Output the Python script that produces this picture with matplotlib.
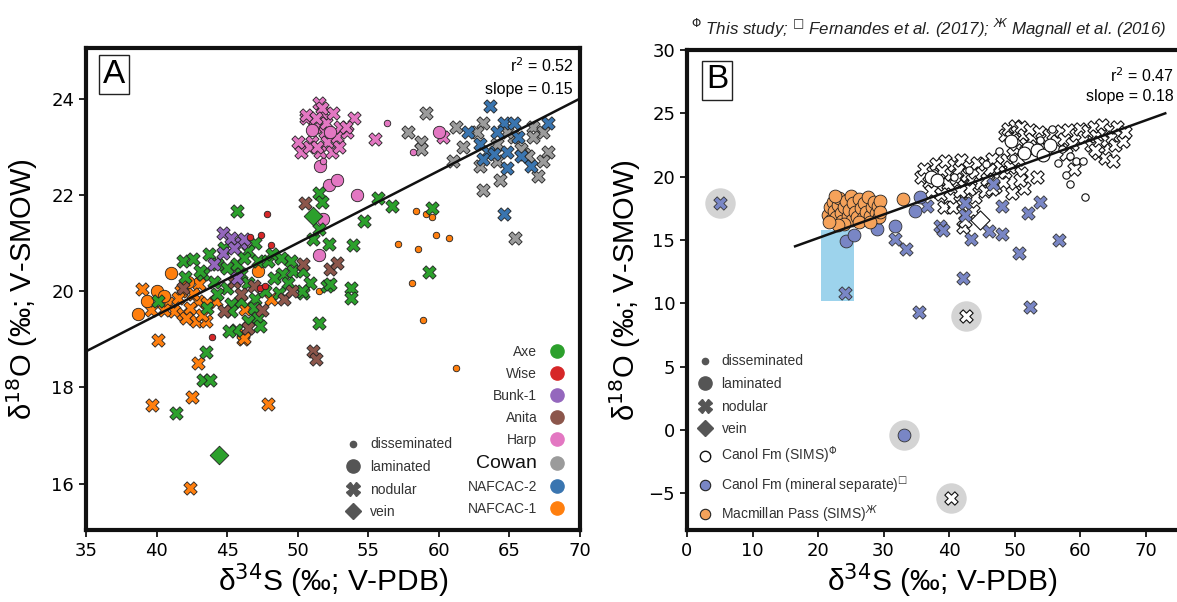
import matplotlib
matplotlib.use("Agg")
import matplotlib.pyplot as plt
from matplotlib.lines import Line2D
from matplotlib.patches import Rectangle

plt.rcParams['font.family'] = ['Liberation Sans', 'DejaVu Sans']

# ---------------- panel A data (d34S, d18O) ----------------
axe_nodular = [(45.7, 21.67), (51.1, 21.08), (52.2, 20.98), (47.0, 21.0), (46.5, 20.83), (43.7, 20.77),
               (41.9, 20.62), (42.6, 20.67), (44.3, 20.56), (45.0, 20.48), (45.7, 20.56), (46.2, 20.69),
               (47.2, 20.63), (47.9, 20.63), (48.2, 20.77), (48.8, 20.69), (49.5, 20.63), (49.7, 20.42),
               (48.9, 20.35), (48.3, 20.27), (49.3, 20.17), (50.4, 20.42), (50.9, 20.17), (52.1, 20.1),
               (50.4, 19.96), (48.7, 19.96), (47.0, 19.83), (46.0, 19.79), (45.0, 20.06), (44.1, 20.2),
               (43.3, 20.35), (44.3, 19.94), (45.3, 19.73), (43.6, 19.65), (43.1, 20.42), (40.1, 19.79),
               (46.9, 19.65), (47.2, 19.44), (47.3, 19.27), (46.5, 19.38), (45.6, 19.2), (45.1, 19.17),
               (43.5, 18.73), (43.3, 18.15), (43.8, 18.15), (41.4, 17.48), (51.5, 19.33), (47.7, 20.0),
               (46.0, 20.35), (46.5, 20.17), (45.3, 19.58), (51.5, 22.04), (51.7, 21.85), (55.7, 21.94),
               (56.7, 21.77), (59.5, 21.73), (54.7, 21.46), (53.9, 20.96), (51.5, 21.3), (53.8, 20.06),
               (53.8, 19.85), (59.3, 20.4), (52.3, 20.15), (50.3, 20.0), (42.0, 20.3), (44.8, 20.9)]
axe_vein = [(51.1, 21.56), (44.4, 16.6)]

nafcac1_nodular = [(40.1, 18.98), (42.9, 18.5), (42.5, 17.8), (39.7, 17.64), (47.9, 17.66), (42.4, 15.92),
                   (46.1, 19.0), (46.1, 19.12), (39.0, 20.04), (40.8, 19.75), (41.2, 19.58), (41.9, 19.52),
                   (42.8, 19.38), (43.5, 19.38), (42.9, 19.79), (43.6, 19.75), (42.4, 19.65), (41.7, 20.0),
                   (43.0, 20.15), (42.6, 19.94), (44.2, 19.79), (46.2, 19.02), (46.3, 19.63), (48.1, 19.83),
                   (39.6, 19.6), (40.5, 19.6), (41.5, 19.85), (43.2, 19.5), (42.1, 19.45)]
nafcac1_laminated = [(38.7, 19.52), (41.0, 20.38), (40.0, 20.0), (40.5, 19.9), (42.2, 20.2), (47.2, 20.42),
                     (39.3, 19.8)]
nafcac1_dissem = [(58.4, 21.67), (59.1, 21.6), (59.5, 21.55), (59.8, 21.17), (60.7, 21.1), (57.1, 20.98),
                  (58.5, 20.87), (58.9, 19.4), (61.2, 18.4), (51.5, 20.0), (58.1, 20.17)]

wise_dissem = [(47.8, 21.6), (47.4, 21.16), (48.1, 20.96), (46.6, 21.12), (47.3, 20.06), (47.7, 20.1),
               (43.9, 19.05)]

bunk1_nodular = [(44.7, 21.2), (45.3, 21.1), (46.0, 21.0), (44.7, 20.8), (45.7, 20.27), (46.2, 21.08),
                 (44.1, 20.56), (45.5, 20.9)]

anita_nodular = [(49.0, 19.83), (52.3, 20.46), (52.8, 20.58), (51.1, 18.75), (51.3, 18.6), (46.9, 20.1),
                 (46.0, 19.94), (49.6, 20.0), (44.8, 19.58), (46.5, 19.23), (41.9, 20.06), (50.4, 20.56),
                 (50.5, 21.83), (45.5, 20.2), (47.5, 19.6)]

harp_nodular = [(50.6, 23.6), (51.5, 23.9), (51.8, 23.7), (51.2, 23.4), (51.9, 23.3), (52.1, 23.1), (51.0, 23.1),
                (50.2, 22.9), (52.8, 23.2), (53.5, 23.3), (54.0, 23.6), (51.6, 22.9), (52.4, 22.9), (50.8, 23.0),
                (52.0, 23.5), (51.4, 23.0), (53.0, 23.4), (51.7, 23.8), (55.5, 23.15), (60.3, 23.2),
                (50.6, 23.65), (50.0, 23.1), (53.4, 23.4), (52.9, 23.0), (51.3, 23.6), (52.5, 23.7)]
harp_laminated = [(60.0, 23.3), (51.6, 22.6), (52.2, 22.2), (52.8, 22.3), (54.2, 22.0), (51.8, 21.5),
                  (51.5, 20.75), (52.3, 23.3), (51.0, 23.35)]
harp_dissem = [(56.3, 23.5), (58.2, 22.9), (51.8, 22.7)]

cowan_nodular = [(59.1, 23.7), (57.8, 23.3), (58.7, 23.1), (58.7, 22.95), (61.2, 23.4), (61.7, 23.0),
                 (61.0, 22.7), (63.1, 23.5), (62.7, 23.3), (62.9, 22.6), (64.3, 22.3), (63.1, 22.1),
                 (65.4, 21.1), (64.1, 23.05), (65.3, 23.2), (66.0, 22.85), (66.7, 23.4), (67.4, 23.3),
                 (67.7, 22.9), (67.4, 22.7), (67.0, 22.4), (66.3, 22.8), (65.8, 22.95), (64.1, 22.7),
                 (64.8, 23.3), (66.7, 23.2)]

nafcac2_nodular = [(63.6, 23.85), (62.1, 23.3), (62.9, 23.05), (63.5, 22.9), (63.1, 22.75), (64.6, 23.5),
                   (65.3, 23.5), (64.8, 22.9), (63.9, 22.85), (64.8, 22.55), (66.5, 22.6), (67.7, 23.5),
                   (64.6, 21.6), (65.6, 23.2), (64.1, 23.3), (65.8, 22.8)]

regions = ['Axe', 'Wise', 'Bunk-1', 'Anita', 'Harp', 'Cowan', 'NAFCAC-2', 'NAFCAC-1']
region_colors = ['#2ca02c', '#d62728', '#9467bd', '#8c564b', '#e377c2', '#9b9b9b', '#3a75b0', '#ff7f0e']
fit_a = (0.15, 13.5)  # slope, intercept

# ---------------- panel B data ----------------
canol_x = [(35.7, 20.0), (36.2, 20.6), (37.0, 19.6), (37.5, 20.4), (38.0, 21.0), (38.5, 19.8), (38.9, 20.5),
           (39.4, 21.2), (39.8, 19.4), (40.3, 20.2), (40.7, 20.9), (41.1, 19.9), (41.5, 20.6), (41.9, 21.3),
           (42.3, 19.3), (42.7, 20.1), (43.1, 20.8), (43.5, 19.7), (43.9, 20.4), (44.3, 21.1), (44.7, 19.5),
           (45.1, 20.3), (45.5, 21.0), (45.8, 19.8), (46.2, 20.6), (46.6, 21.4), (47.0, 19.2), (47.4, 20.0),
           (47.8, 20.8), (48.2, 19.6), (48.6, 20.4), (37.2, 18.9), (38.7, 18.6), (40.2, 18.3), (42.6, 18.7),
           (44.0, 18.4), (45.5, 18.9), (43.1, 19.0), (46.5, 19.0), (41.6, 18.9), (39.2, 17.6), (40.6, 17.6),
           (42.1, 17.8), (42.1, 16.0), (42.4, 16.5), (43.6, 17.3),
           (48.5, 23.3), (49.0, 23.8), (49.5, 23.1), (50.0, 24.0), (50.3, 23.5), (50.7, 22.9), (51.0, 23.9),
           (51.4, 23.3), (51.8, 22.6), (52.3, 23.7), (52.7, 23.0), (53.2, 22.4), (53.7, 23.5), (54.2, 23.0),
           (54.7, 22.2), (55.2, 23.3), (48.8, 21.3), (49.3, 20.8), (49.8, 21.8), (50.5, 21.4), (51.0, 20.3),
           (51.4, 19.1), (50.8, 19.7), (49.6, 18.7), (53.4, 20.0),
           (55.9, 23.4), (56.5, 22.8), (57.1, 23.6), (57.6, 23.0), (58.2, 23.7), (58.8, 22.6), (59.4, 23.3),
           (60.0, 23.8), (60.6, 23.1), (61.2, 23.6), (61.6, 22.5), (62.1, 23.9), (62.5, 23.2), (62.9, 22.7),
           (63.3, 24.1), (63.7, 23.4), (64.1, 22.9), (64.5, 23.7), (64.9, 23.1), (65.3, 22.5), (65.7, 23.9),
           (66.1, 23.3), (66.5, 22.8), (66.8, 23.5), (62.8, 21.9), (63.8, 21.5), (65.1, 21.2), (62.3, 22.1),
           (59.0, 20.6), (57.8, 21.8)]
canol_dissem = [(60.8, 18.4), (58.5, 19.4), (57.8, 20.1), (59.4, 21.2), (56.7, 21.1), (60.4, 21.2), (58.4, 21.6),
                (57.3, 22.2), (55.7, 23.8), (53.9, 22.9), (52.4, 22.1), (49.8, 21.5), (47.6, 22.0), (45.6, 21.0),
                (43.1, 20.5), (40.7, 20.0), (37.7, 20.3)]
canol_laminated = [(52.1, 22.3), (53.5, 22.1), (51.4, 21.9), (54.4, 21.7), (37.2, 20.0), (38.2, 19.7),
                   (49.5, 22.8), (55.4, 22.5)]
canol_vein = [(44.7, 16.6)]
canol_outliers = [(42.6, 9.0), (40.3, -5.4)]

sep_nodular = [(5.0, 17.95), (36.6, 17.7), (42.4, 17.9), (42.4, 17.0), (48.1, 17.7), (52.1, 17.1), (53.9, 18.0),
               (38.6, 16.1), (39.1, 15.8), (43.4, 15.1), (46.1, 15.7), (48.1, 15.5), (50.7, 14.0), (56.8, 15.0),
               (31.8, 15.1), (33.4, 14.3), (42.1, 12.0), (35.4, 9.3), (52.4, 9.7), (24.1, 10.8), (46.7, 19.4)]
sep_laminated = [(24.3, 14.9), (25.5, 15.4), (29.0, 15.9), (31.8, 16.1), (34.8, 17.3), (35.6, 18.4),
                 (29.2, 16.8), (33.1, -0.4)]
sep_outliers = [(5.0, 17.95), (33.1, -0.4)]

macmillan = [(21.5, 17.0), (21.8, 17.6), (22.0, 16.6), (22.3, 18.0), (22.5, 17.3), (22.8, 16.8), (23.0, 17.8),
             (23.2, 18.3), (23.5, 17.1), (23.7, 16.5), (24.0, 17.6), (24.2, 18.1), (24.5, 16.9), (24.7, 17.4),
             (25.0, 18.5), (25.2, 16.6), (25.4, 17.9), (25.7, 17.2), (26.0, 16.8), (26.2, 18.2), (26.5, 17.5),
             (26.8, 16.7), (27.0, 17.9), (27.3, 17.2), (27.6, 18.4), (27.9, 16.9), (28.2, 17.6), (28.5, 18.0),
             (28.8, 17.1), (29.1, 17.7), (29.3, 16.8), (29.4, 18.1), (24.0, 16.3), (26.3, 16.4), (23.0, 16.2),
             (28.0, 16.4), (21.7, 16.4), (29.5, 17.2), (33.0, 18.2), (22.6, 18.5)]
fit_b = (16.5, 73.0, 14.5, 25.0)  # x0, x1, y0, y1
box_b = (20.5, 25.5, 10.2, 15.8)  # x0, x1, y0, y1


def xy(points):
    return [p[0] for p in points], [p[1] for p in points]


fig = plt.figure(figsize=(11.77, 6.02), dpi=100)
axA = fig.add_axes([86 / 1177, 1 - 530 / 602, 494 / 1177, 482 / 602])
axB = fig.add_axes([687 / 1177, 1 - 530 / 602, 511 / 1177, 480 / 602])

edge = dict(edgecolors='#222222', linewidths=0.6)
S_DIS, S_LAM, S_NOD, S_VEIN = 22, 80, 92, 90

# ---- panel A ----
groups = [
    (cowan_nodular, 'X', S_NOD, 5), (nafcac2_nodular, 'X', S_NOD, 6),
    (harp_nodular, 'X', S_NOD, 4), (harp_laminated, 'o', S_LAM, 4), (harp_dissem, 'o', S_DIS, 4),
    (nafcac1_dissem, 'o', S_DIS, 7),
    (nafcac1_nodular, 'X', S_NOD, 7), (nafcac1_laminated, 'o', S_LAM, 7),
    (axe_nodular, 'X', S_NOD, 0), (anita_nodular, 'X', S_NOD, 3), (bunk1_nodular, 'X', S_NOD, 2),
    (wise_dissem, 'o', S_DIS, 1), (axe_vein, 'D', S_VEIN, 0),
]
for pts, mk, s, ci in groups:
    x, y = xy(pts)
    axA.scatter(x, y, marker=mk, s=s, c=region_colors[ci], zorder=3, **edge)

axA.plot([35, 70], [fit_a[0] * 35 + fit_a[1], fit_a[0] * 70 + fit_a[1]], color='#111111', lw=1.8, zorder=4)
axA.set_xlim(35, 70)
axA.set_ylim(15.04, 25.05)
axA.set_xticks(range(35, 71, 5))
axA.set_yticks(range(16, 25, 2))

gray = '#555555'
type_handles = [Line2D([], [], ls='none', marker='o', ms=4.5, color=gray),
                Line2D([], [], ls='none', marker='o', ms=9.5, color=gray),
                Line2D([], [], ls='none', marker='X', ms=10, color=gray),
                Line2D([], [], ls='none', marker='D', ms=8.5, color=gray)]
type_labels = ['disseminated', 'laminated', 'nodular', 'vein']
legA1 = axA.legend(type_handles, type_labels, loc='lower left', bbox_to_anchor=(0.51, 0.008),
                   frameon=False, fontsize=10, handlelength=1.2, handletextpad=0.6, labelspacing=0.62,
                   borderpad=0, labelcolor='#333333')
axA.add_artist(legA1)
reg_handles = [Line2D([], [], ls='none', marker='o', ms=9.5, color=c) for c in region_colors]
legA2 = axA.legend(reg_handles, regions, loc='lower right', bbox_to_anchor=(0.981, 0.014),
                   frameon=False, fontsize=10, markerfirst=False, handlelength=1.0, handletextpad=0.9,
                   labelspacing=0.58, borderpad=0, labelcolor='#333333')
legA2.get_texts()[5].set_fontsize(14)
legA2.get_texts()[5].set_color('#111111')

axA.text(0.986, 0.983, 'r$^2$ = 0.52', transform=axA.transAxes, ha='right', va='top', fontsize=11.5)
axA.text(0.986, 0.93, 'slope = 0.15', transform=axA.transAxes, ha='right', va='top', fontsize=11.5)
axA.text(0.057, 0.944, 'A', transform=axA.transAxes, ha='center', va='center', fontsize=24,
         bbox=dict(boxstyle='square,pad=0.12', fc='white', ec='#222222', lw=1.0))
axA.set_xlabel('δ$^{34}$S (‰; V-PDB)', fontsize=21.5, labelpad=1)
axA.set_ylabel('δ$^{18}$O (‰; V-SMOW)', fontsize=21, labelpad=8)

# ---- panel B ----
axB.add_patch(Rectangle((box_b[0], box_b[2]), box_b[1] - box_b[0], box_b[3] - box_b[2],
                        color='#9dd3ec', lw=0, zorder=1))
hx, hy = xy(sep_outliers + canol_outliers)
axB.scatter(hx, hy, s=480, c='#d4d4d4', lw=0, zorder=2)

sep_col = '#7986c5'
mac_col = '#f5a25a'
x, y = xy(canol_x)
axB.scatter(x, y, marker='X', s=92, facecolors='white', edgecolors='#111111', linewidths=0.8, zorder=3)
x, y = xy(canol_outliers)
axB.scatter(x, y, marker='X', s=92, facecolors='white', edgecolors='#111111', linewidths=0.8, zorder=3)
x, y = xy(canol_dissem)
axB.scatter(x, y, marker='o', s=28, facecolors='white', edgecolors='#111111', linewidths=0.8, zorder=3)
x, y = xy(canol_laminated)
axB.scatter(x, y, marker='o', s=85, facecolors='white', edgecolors='#111111', linewidths=0.8, zorder=3)
x, y = xy(canol_vein)
axB.scatter(x, y, marker='D', s=95, facecolors='white', edgecolors='#111111', linewidths=0.8, zorder=3)
x, y = xy(sep_nodular)
axB.scatter(x, y, marker='X', s=92, c=sep_col, edgecolors='#333333', linewidths=0.6, zorder=4)
x, y = xy(sep_laminated)
axB.scatter(x, y, marker='o', s=85, c=sep_col, edgecolors='#333333', linewidths=0.6, zorder=4)
x, y = xy(macmillan)
axB.scatter(x, y, marker='o', s=85, c=mac_col, edgecolors='#222222', linewidths=0.6, zorder=4)

axB.plot(fit_b[:2], fit_b[2:], color='#111111', lw=1.8, zorder=5)
axB.set_xlim(0, 78)
axB.set_ylim(-7.9, 30)
axB.set_xticks(range(0, 71, 10))
axB.set_yticks(range(-5, 31, 5))

b_handles = type_handles + [
    Line2D([], [], ls='none', marker='o', ms=7.5, mfc='white', mec='#111111', mew=1.0),
    Line2D([], [], ls='none', marker='o', ms=7.5, mfc=sep_col, mec='#222222', mew=0.8),
    Line2D([], [], ls='none', marker='o', ms=7.5, mfc=mac_col, mec='#222222', mew=0.8)]
b_labels = type_labels + ['Canol Fm (SIMS)$^{\\Phi}$', 'Canol Fm (mineral separate)$^{□}$',
                          'Macmillan Pass (SIMS)$^{Ж}$']
axB.legend(b_handles, b_labels, loc='lower left', bbox_to_anchor=(0.005, -0.004), frameon=False, fontsize=10,
           handlelength=1.2, handletextpad=0.6, labelspacing=0.62, borderpad=0, labelcolor='#333333')

axB.text(0.953, 0.965, 'r$^2$ = 0.47', transform=axB.transAxes, ha='right', va='top', fontsize=11.5)
axB.text(0.953, 0.918, 'slope = 0.18', transform=axB.transAxes, ha='right', va='top', fontsize=11.5)
axB.text(0.059, 0.9375, 'B', transform=axB.transAxes, ha='center', va='center', fontsize=24,
         bbox=dict(boxstyle='square,pad=0.12', fc='white', ec='#222222', lw=1.0))
axB.set_xlabel('δ$^{34}$S (‰; V-PDB)', fontsize=21.5, labelpad=1)
axB.set_ylabel('δ$^{18}$O (‰; V-SMOW)', fontsize=21, labelpad=4)

fig.text(0.789, 0.952, '$^{\\Phi}$ This study; $^{□}$ Fernandes et al. (2017); $^{Ж}$ Magnall et al. (2016)',
         ha='center', va='center', fontsize=12.2, style='italic', color='#222222')

for ax in (axA, axB):
    for sp in ax.spines.values():
        sp.set_linewidth(3)
        sp.set_color('#111111')
    ax.tick_params(labelsize=13, width=1.2, length=5, labelfontfamily='DejaVu Sans')

fig.savefig('out.png', dpi=100)
